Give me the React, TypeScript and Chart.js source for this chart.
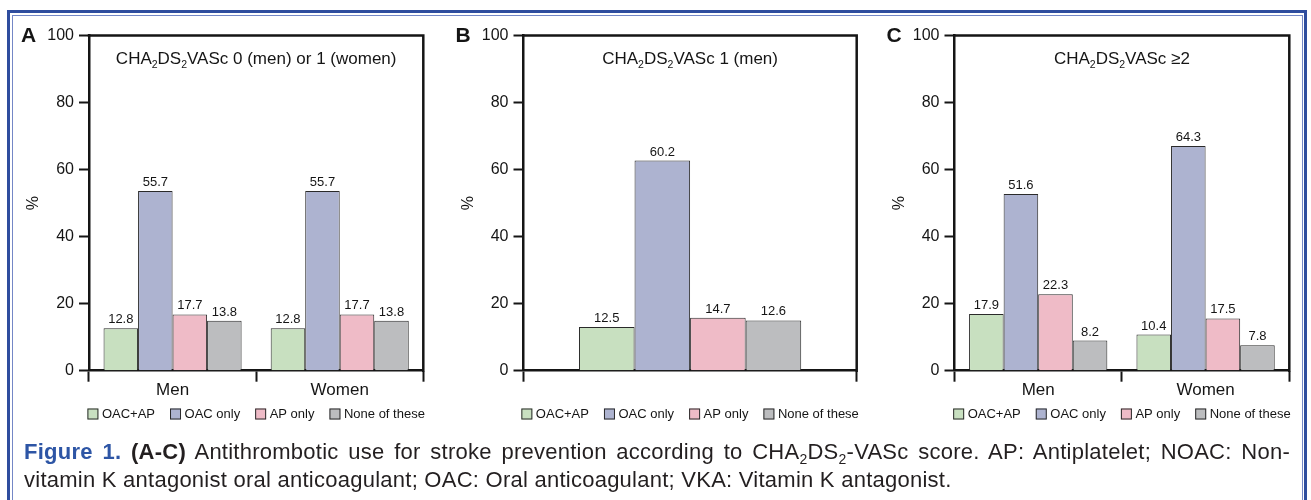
import React, { useEffect, useRef } from "react";
import { Chart, registerables } from "chart.js";

Chart.register(...registerables);

// ---------- data ----------
const seriesNames = ["OAC+AP", "OAC only", "AP only", "None of these"];
const seriesColors = ["#c8e0c0", "#adb3d0", "#efbbc7", "#bcbdbf"];
const sexCategories = ["Men", "Women"];
const singleCategory = [""];
const yTickValues = [0, 20, 40, 60, 80, 100];

// Panel A: CHA2DS2VASc 0 (men) or 1 (women)
const aOacAp = [12.7, 12.7];
const aOacOnly = [53.6, 53.6];
const aApOnly = [16.8, 16.8];
const aNone = [14.9, 14.9];
const aLabOacAp = ["12.8", "12.8"];
const aLabOacOnly = ["55.7", "55.7"];
const aLabApOnly = ["17.7", "17.7"];
const aLabNone = ["13.8", "13.8"];

// Panel B: CHA2DS2VASc 1 (men)
const bOacAp = [13.0];
const bOacOnly = [62.7];
const bApOnly = [15.8];
const bNone = [15.0];
const bLabOacAp = ["12.5"];
const bLabOacOnly = ["60.2"];
const bLabApOnly = ["14.7"];
const bLabNone = ["12.6"];

// Panel C: CHA2DS2VASc >=2
const cOacAp = [16.9, 10.8];
const cOacOnly = [52.7, 67.0];
const cApOnly = [22.8, 15.6];
const cNone = [9.0, 7.6];
const cLabOacAp = ["17.9", "10.4"];
const cLabOacOnly = ["51.6", "64.3"];
const cLabApOnly = ["22.3", "17.5"];
const cLabNone = ["8.2", "7.8"];

const titleA: [string, boolean][] = [["CHA", false], ["2", true], ["DS", false], ["2", true], ["VASc 0 (men) or 1 (women)", false]];
const titleB: [string, boolean][] = [["CHA", false], ["2", true], ["DS", false], ["2", true], ["VASc 1 (men)", false]];
const titleC: [string, boolean][] = [["CHA", false], ["2", true], ["DS", false], ["2", true], ["VASc \u22652", false]];

const FONT = "'Liberation Sans', Arial, Helvetica, sans-serif";
const INK = "#151515";

type PanelProps = {
  letter: string;
  title: [string, boolean][];
  categories: string[];
  values: number[][];
  labels: string[][];
  catPct: number;
  left: number;
  width: number;
  chartLeft: number; // relative to canvas
  chartRight: number; // relative to canvas
};

const TOP = 15;
const HEIGHT = 425;
const Y_AXIS_W = 50;
const X_AXIS_H = 28;
const CHART_BOTTOM = 370.7;

function drawParts(ctx: CanvasRenderingContext2D, parts: [string, boolean][], cx: number, y: number) {
  const main = `17px ${FONT}`;
  const sub = `10.5px ${FONT}`;
  let total = 0;
  for (const [t, s] of parts) {
    ctx.font = s ? sub : main;
    total += ctx.measureText(t).width;
  }
  let x = cx - total / 2;
  ctx.textAlign = "left";
  ctx.textBaseline = "alphabetic";
  for (const [t, s] of parts) {
    ctx.font = s ? sub : main;
    ctx.fillText(t, x, s ? y + 4 : y);
    x += ctx.measureText(t).width;
  }
}

function Panel(p: PanelProps) {
  const ref = useRef<HTMLCanvasElement | null>(null);
  useEffect(() => {
    if (!ref.current) return;
    const decor = {
      id: "decor",
      afterDatasetsDraw(chart: any) {
        const ctx = chart.ctx as CanvasRenderingContext2D;
        const ca = chart.chartArea;
        ctx.save();
        // value labels
        ctx.fillStyle = INK;
        ctx.font = `13px ${FONT}`;
        ctx.textAlign = "center";
        ctx.textBaseline = "bottom";
        chart.data.datasets.forEach((ds: any, di: number) => {
          const meta = chart.getDatasetMeta(di);
          meta.data.forEach((el: any, i: number) => {
            ctx.fillText(p.labels[di][i], el.x, el.y - 2);
          });
        });
        // frame top & right
        ctx.strokeStyle = INK;
        ctx.lineWidth = 2.5;
        ctx.beginPath();
        ctx.moveTo(ca.left - 1.25, ca.top);
        ctx.lineTo(ca.right, ca.top);
        ctx.lineTo(ca.right, ca.bottom + 1.25);
        ctx.stroke();
        // title
        ctx.fillStyle = INK;
        drawParts(ctx, p.title, (ca.left + ca.right) / 2, ca.top + 28);
        // panel letter
        ctx.font = `bold 21px ${FONT}`;
        ctx.textAlign = "left";
        ctx.textBaseline = "middle";
        ctx.fillText(p.letter, ca.left - 68, ca.top + 1);
        // legend (drawn from the datasets)
        const box = 11;
        const gapBoxText = 3.5;
        const gapItem = 15;
        ctx.font = `13px ${FONT}`;
        const dsets = chart.data.datasets;
        const widths = dsets.map((d: any) => box + gapBoxText + ctx.measureText(d.label).width);
        const total = widths.reduce((a: number, b: number) => a + b, 0) + gapItem * (dsets.length - 1);
        let lx = (ca.left + ca.right) / 2 - total / 2;
        const ly = ca.bottom + 43.3;
        ctx.textBaseline = "middle";
        ctx.textAlign = "left";
        dsets.forEach((d: any, i: number) => {
          ctx.fillStyle = d.backgroundColor;
          ctx.fillRect(lx, ly - box / 2, box, box);
          ctx.strokeStyle = "#2a2a2a";
          ctx.lineWidth = 1;
          ctx.strokeRect(lx + 0.5, ly - box / 2 + 0.5, box - 1, box - 1);
          ctx.fillStyle = INK;
          ctx.fillText(d.label, lx + box + gapBoxText, ly + 0.5);
          lx += widths[i] + gapItem;
        });
        // y axis title
        ctx.fillStyle = INK;
        ctx.font = `16px ${FONT}`;
        ctx.translate(ca.left - 55, (ca.top + ca.bottom) / 2);
        ctx.rotate(-Math.PI / 2);
        ctx.textAlign = "center";
        ctx.textBaseline = "middle";
        ctx.fillText("%", 0, 0);
        ctx.restore();
      },
    };
    const chart = new Chart(ref.current, {
      type: "bar",
      data: {
        labels: p.categories,
        datasets: p.values.map((v, i) => ({
          label: seriesNames[i],
          data: v,
          backgroundColor: seriesColors[i],
          borderColor: "#2a2a2a",
          borderWidth: 1,
          borderSkipped: "bottom" as const,
          categoryPercentage: p.catPct,
          barPercentage: 1,
        })),
      },
      options: {
        animation: false,
        responsive: false,
        maintainAspectRatio: false,
        layout: {
          padding: {
            left: p.chartLeft - Y_AXIS_W,
            right: p.width - p.chartRight,
            top: 20.5,
            bottom: TOP + HEIGHT - CHART_BOTTOM - X_AXIS_H,
          },
        },
        plugins: {
          legend: { display: false },
          tooltip: { enabled: false },
          title: { display: false },
        },
        scales: {
          x: {
            offset: true,
            afterFit: (s: any) => {
              s.height = X_AXIS_H;
            },
            grid: {
              offset: true,
              drawOnChartArea: false,
              drawTicks: true,
              tickLength: 11,
              tickWidth: 2,
              tickColor: INK,
            },
            border: { display: true, color: INK, width: 2.5 },
            ticks: { color: INK, font: { family: FONT, size: 17 }, padding: -1.5 },
          },
          y: {
            min: 0,
            max: 100,
            afterFit: (s: any) => {
              s.width = Y_AXIS_W;
            },
            afterBuildTicks: (s: any) => {
              s.ticks = yTickValues.map((v) => ({ value: v }));
            },
            grid: {
              drawOnChartArea: false,
              drawTicks: true,
              tickLength: 10,
              tickWidth: 2,
              tickColor: INK,
            },
            border: { display: true, color: INK, width: 2.5 },
            ticks: { color: INK, font: { family: FONT, size: 16 }, padding: 5 },
          },
        },
      },
      plugins: [decor],
    } as any);
    return () => chart.destroy();
  }, []);
  return (
    <canvas
      ref={ref}
      width={p.width}
      height={HEIGHT}
      style={{ position: "absolute", left: p.left, top: TOP, width: p.width, height: HEIGHT }}
    />
  );
}

const subStyle: React.CSSProperties = { fontSize: 14, position: "relative", top: 5 };

export default function App() {
  return (
    <div style={{ position: "absolute", left: 0, top: 0, width: 1311, height: 500, overflow: "hidden", background: "#fff", fontFamily: FONT }}>
      <div style={{ position: "absolute", left: 7, top: 10, width: 1294, height: 520, borderTop: "3px solid #2f4d9e", borderLeft: "3px solid #2f4d9e", borderRight: "3px solid #2f4d9e" }} />
      <div style={{ position: "absolute", left: 12, top: 15, width: 1289, height: 520, borderTop: "1.5px solid #7487c6", borderLeft: "1.5px solid #7487c6", borderRight: "1.5px solid #7487c6" }} />
      <Panel letter="A" title={titleA} categories={sexCategories} values={[aOacAp, aOacOnly, aApOnly, aNone]} labels={[aLabOacAp, aLabOacOnly, aLabApOnly, aLabNone]} catPct={0.826} left={16} width={428} chartLeft={73} chartRight={407.3} />
      <Panel letter="B" title={titleB} categories={singleCategory} values={[bOacAp, bOacOnly, bApOnly, bNone]} labels={[bLabOacAp, bLabOacOnly, bLabApOnly, bLabNone]} catPct={0.667} left={444} width={432} chartLeft={79.5} chartRight={412.7} />
      <Panel letter="C" title={titleC} categories={sexCategories} values={[cOacAp, cOacOnly, cApOnly, cNone]} labels={[cLabOacAp, cLabOacOnly, cLabApOnly, cLabNone]} catPct={0.826} left={876} width={426} chartLeft={78.5} chartRight={413.3} />
      <div style={{ position: "absolute", left: 24, top: 439, width: 1266, fontSize: 22, lineHeight: "26px", letterSpacing: "0.25px", color: "#231f20" }}>
        <div style={{ textAlign: "justify", textAlignLast: "justify", whiteSpace: "nowrap" as const }}>
          <span style={{ color: "#2d55a5", fontWeight: "bold" }}>Figure 1.</span>{" "}
          <b>(A-C)</b> Antithrombotic use for stroke prevention according to CHA
          <span style={subStyle}>2</span>DS
          <span style={subStyle}>2</span>-VASc score. AP: Antiplatelet; NOAC: Non-
        </div>
        <div>vitamin K antagonist oral anticoagulant; OAC: Oral anticoagulant; VKA: Vitamin K antagonist.</div>
      </div>
    </div>
  );
}
